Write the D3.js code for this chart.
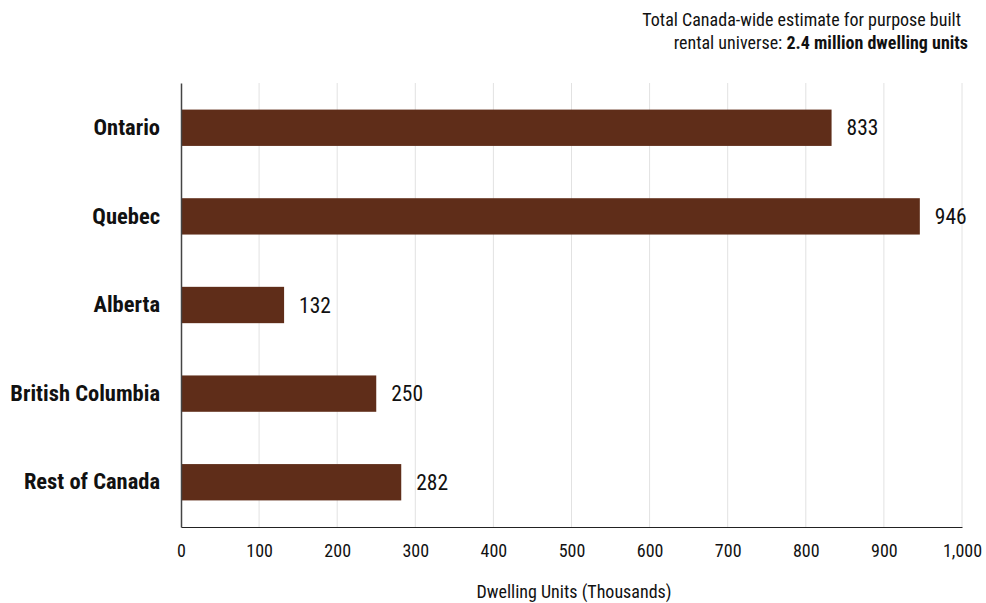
<!DOCTYPE html>
<html><head><meta charset="utf-8">
<script src="https://cdn.jsdelivr.net/npm/d3@7"></script>
<style>
body{margin:0;background:#fff;}
svg text{font-family:"Liberation Sans Narrow","Roboto Condensed","Arial Narrow",sans-serif;fill:#111;}
</style></head>
<body><svg id="c" width="986" height="603"></svg>
<script>
const categories = ["Ontario","Quebec","Alberta","British Columbia","Rest of Canada"];
const values = [833, 946, 132, 250, 282];
const xTicks = [0,100,200,300,400,500,600,700,800,900,1000];
const xTitle = "Dwelling Units (Thousands)";
const noteLine1 = "Total Canada-wide estimate for purpose built";
const noteLine2a = "rental universe: ";
const noteLine2b = "2.4 million dwelling units";

const svg = d3.select("#c");
const mLeft = 181, mRight = 962, mTop = 83, mBottom = 527;
const x = d3.scaleLinear().domain([0,1000]).range([mLeft,mRight]);
const y = d3.scaleBand().domain(categories).range([mTop,mBottom]).paddingInner(0.59).paddingOuter(0.3);
const ff = '"Liberation Sans Narrow","Roboto Condensed",sans-serif';

// grid
svg.append("g").selectAll("line").data(xTicks.filter(d=>d>0)).join("line")
  .attr("x1",d=>x(d)).attr("x2",d=>x(d)).attr("y1",mTop).attr("y2",mBottom)
  .attr("stroke","#e2e2e2").attr("stroke-width",1);

// bars
svg.append("g").selectAll("rect").data(values).join("rect")
  .attr("x",x(0)+1).attr("y",(d,i)=>y(categories[i]))
  .attr("width",d=>x(d)-x(0)-1).attr("height",y.bandwidth())
  .attr("fill","#5f2d19");

// value labels
svg.append("g").selectAll("text").data(values).join("text")
  .attr("x",d=>x(d)+15).attr("y",(d,i)=>y(categories[i])+y.bandwidth()/2)
  .attr("dy","0.36em").attr("font-size",21.5).text(d=>d);

// x axis
const xAxis = d3.axisBottom(x).tickValues(xTicks).tickSize(0).tickPadding(17).tickFormat(d3.format(","));
const gx = svg.append("g").attr("transform",`translate(0,${mBottom})`).call(xAxis);
gx.select(".domain").attr("stroke","#222").attr("stroke-width",1.2);
gx.selectAll("text").attr("font-size",18).attr("fill","#111").style("font-family",ff);

// y axis
const yAxis = d3.axisLeft(y).tickSize(0).tickPadding(21);
const gy = svg.append("g").attr("transform",`translate(${mLeft},0)`).call(yAxis);
gy.select(".domain").attr("stroke","#444").attr("stroke-width",1.5);
gy.selectAll("text").attr("font-size",22.5).attr("font-weight","bold").attr("fill","#111").style("font-family",ff);

// axis title
svg.append("text").attr("x",574).attr("y",598).attr("text-anchor","middle")
  .attr("font-size",18).text(xTitle);

// note
svg.append("text").attr("x",961).attr("y",26).attr("text-anchor","end").attr("font-size",18).text(noteLine1);
const t2 = svg.append("text").attr("x",968).attr("y",49).attr("text-anchor","end").attr("font-size",18);
t2.append("tspan").text(noteLine2a);
t2.append("tspan").attr("font-weight","bold").text(noteLine2b);
</script></body></html>
